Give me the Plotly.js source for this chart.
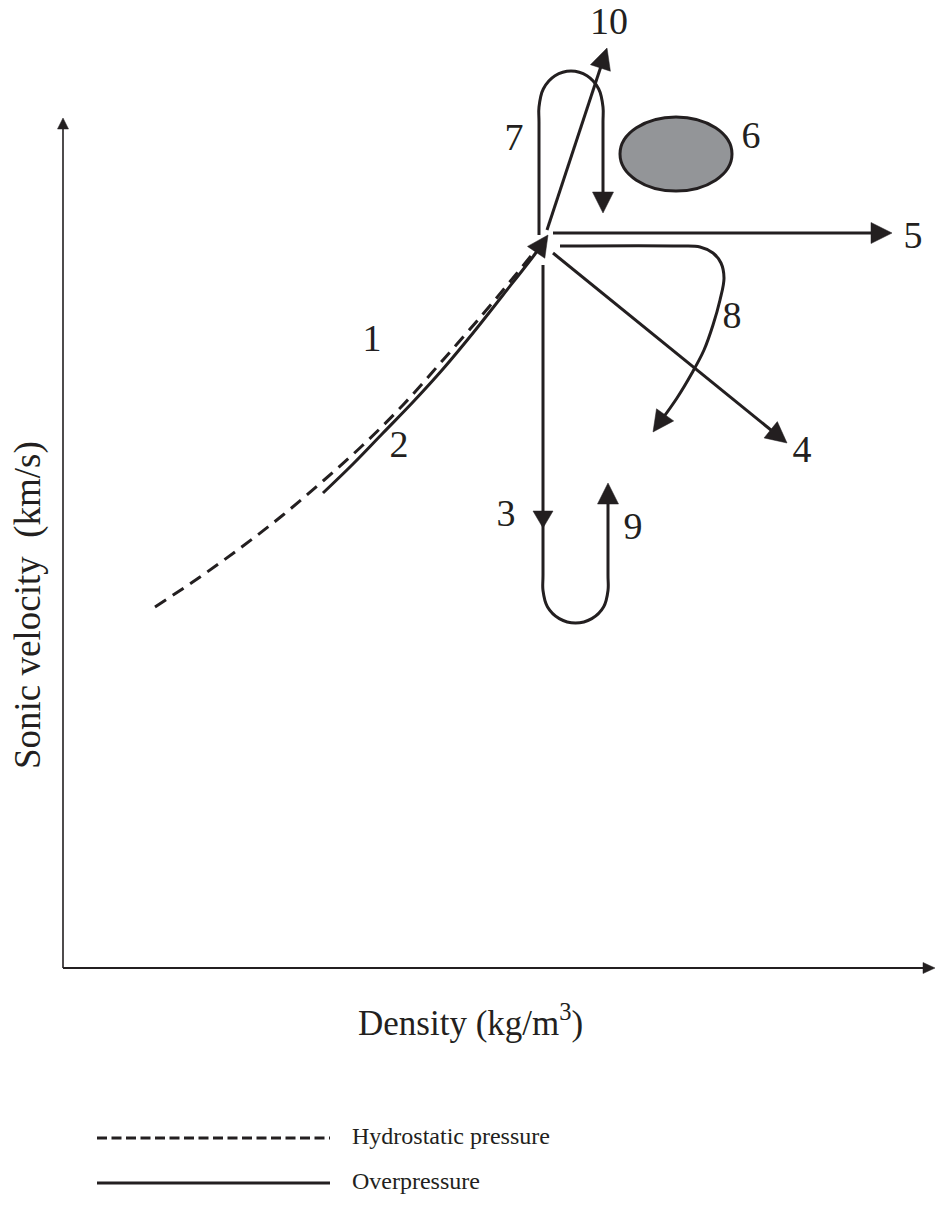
<!DOCTYPE html>
<html>
<head>
<meta charset="utf-8">
<script src="https://cdn.plot.ly/plotly-3.0.1.min.js"></script>
<style>html,body{margin:0;padding:0;background:#fff}</style>
</head>
<body>
<div id="chart" style="width:936px;height:1226px"></div>
<script>
// Schematic: sonic velocity vs density trends (arbitrary units, origin at the axes corner)

// Hydrostatic compaction trend (dashed)
const hydroX = [9.2, 13.7, 18.0, 22.0, 26.0, 30.0, 34.0, 38.0, 42.0, 45.0, 47.6];
const hydroY = [36.1, 39.1, 42.2, 45.3, 48.7, 52.3, 56.3, 60.8, 65.4, 69.0, 72.2];

// Overpressure trend (solid, ends with an arrow)
const overX = [26.0, 29.0, 32.0, 35.0, 38.0, 41.0, 44.0, 47.2, 48.5];
const overY = [47.5, 50.4, 53.5, 56.6, 59.9, 63.5, 67.3, 71.4, 73.3];

// Path 3 -> 9: straight down, U-turn, back up
const uX = [48.0, 48.0, 48.0, 48.44, 49.63, 51.25, 52.88, 54.07, 54.5, 54.5, 54.5];
const uY = [70.3, 39.3, 37.75, 36.13, 34.94, 34.5, 34.94, 36.13, 37.75, 39.3, 48.5];
const arrow3Tip = [48.0, 44.0];

// Path 7: up, loop over, back down
const loopX = [47.6, 47.6, 47.6, 48.03, 49.2, 50.8, 52.4, 53.57, 54.0, 54.0, 54.0];
const loopY = [73.3, 84.6, 86.1, 87.9, 89.22, 89.7, 89.22, 87.9, 86.1, 84.6, 75.5];

// Path 8: right, then bending down-left
const bendX = [49.7, 61.7, 63.7, 65.0, 65.8, 66.1, 65.7, 65.0, 64.1, 62.9, 61.4, 59.0];
const bendY = [72.2, 72.2, 72.1, 71.5, 70.5, 69.0, 66.8, 64.3, 61.8, 59.5, 57.0, 53.6];

// Straight arrows: [start, end]
const arrow4X = [49.0, 72.4], arrow4Y = [71.5, 52.5];
const arrow5X = [49.0, 82.9], arrow5Y = [73.5, 73.5];
const arrow10X = [48.4, 54.4], arrow10Y = [73.8, 92.0];

// Field 6 (ellipse): centre and semi-axes
const field6Center = [61.3, 81.4];
const field6Radii = [5.6, 3.7];

// Case labels
const labelText = ['1', '2', '3', '4', '5', '6', '7', '8', '9', '10'];
const labelX = [30.9, 33.6, 44.3, 73.9, 85.0, 68.8, 45.1, 66.9, 57.0, 54.6];
const labelY = [62.7, 52.1, 45.2, 51.6, 73.0, 83.0, 82.8, 65.0, 43.9, 94.4];

// Axes extents
const xAxisEnd = 87.2;
const yAxisEnd = 85.0;

// Legend
const legendNames = ['Hydrostatic pressure', 'Overpressure'];
const legendLineX = [3.4, 26.7];
const legendRowY = [-17.0, -21.5];

const INK = '#231f20';
const SERIF = '"Liberation Serif", "Times New Roman", Times, serif';
const HEAD_LEN = 2.1, HEAD_HALF = 1.05;

function headPoly(tip, from, len, half) {
  const dx = tip[0] - from[0], dy = tip[1] - from[1];
  const d = Math.hypot(dx, dy), ux = dx / d, uy = dy / d;
  const bx = tip[0] - ux * len, by = tip[1] - uy * len;
  return {
    x: [tip[0], bx - uy * half, bx + uy * half, tip[0]],
    y: [tip[1], by + ux * half, by - ux * half, tip[1]]
  };
}

function headTrace(poly) {
  return {
    type: 'scatter', mode: 'lines', x: poly.x, y: poly.y,
    fill: 'toself', fillcolor: INK, line: {color: INK, width: 0.5},
    hoverinfo: 'skip', showlegend: false
  };
}

function lineTrace(xs, ys, width, extra) {
  return Object.assign({
    type: 'scatter', mode: 'lines', x: xs, y: ys,
    line: {color: INK, width: width},
    hoverinfo: 'skip', showlegend: false
  }, extra || {});
}

// Line ending in an arrowhead: the line stops inside the head
function arrowTraces(xs, ys, smooth, len, half) {
  len = len || HEAD_LEN; half = half || HEAD_HALF;
  const n = xs.length;
  const tip = [xs[n - 1], ys[n - 1]], from = [xs[n - 2], ys[n - 2]];
  const dx = tip[0] - from[0], dy = tip[1] - from[1], d = Math.hypot(dx, dy);
  const lx = xs.slice(), ly = ys.slice();
  lx[n - 1] = tip[0] - dx / d * len * 0.7;
  ly[n - 1] = tip[1] - dy / d * len * 0.7;
  const line = {color: INK, width: 3};
  if (smooth) { line.shape = 'spline'; line.smoothing = 1; }
  return [
    lineTrace(lx, ly, 3, {line: line}),
    headTrace(headPoly(tip, from, len, half))
  ];
}

const traces = [];

// Axes with arrowheads
traces.push(lineTrace([0, xAxisEnd - 0.6], [0, 0], 2));
traces.push(headTrace(headPoly([xAxisEnd, 0], [0, 0], 1.2, 0.55)));
traces.push(lineTrace([0, 0], [0, yAxisEnd - 0.6], 1.6));
traces.push(headTrace(headPoly([0, yAxisEnd], [0, 0], 1.1, 0.55)));

// Hydrostatic trend
traces.push(lineTrace(hydroX, hydroY, 3, {line: {color: INK, width: 3, dash: '13px,8px', shape: 'spline', smoothing: 1}}));

// Overpressure trend
arrowTraces(overX, overY, true).forEach(t => traces.push(t));

// Straight arrows 4, 5, 10
arrowTraces(arrow4X, arrow4Y, false).forEach(t => traces.push(t));
arrowTraces(arrow5X, arrow5Y, false).forEach(t => traces.push(t));
arrowTraces(arrow10X, arrow10Y, false).forEach(t => traces.push(t));

// Curved paths 3/9, 7, 8
arrowTraces(uX, uY, true).forEach(t => traces.push(t));
traces.push(headTrace(headPoly(arrow3Tip, [arrow3Tip[0], arrow3Tip[1] + 5], 1.7, 1.0)));
arrowTraces(loopX, loopY, true).forEach(t => traces.push(t));
arrowTraces(bendX, bendY, true).forEach(t => traces.push(t));

// Numbered labels
traces.push({
  type: 'scatter', mode: 'text', x: labelX, y: labelY, text: labelText,
  textposition: 'middle center', cliponaxis: false,
  textfont: {family: SERIF, size: 38, color: INK},
  hoverinfo: 'skip', showlegend: false
});

// Legend key lines
traces.push(lineTrace(legendLineX, [legendRowY[0], legendRowY[0]], 3, {line: {color: INK, width: 3, dash: '10px,4.5px'}}));
traces.push(lineTrace(legendLineX, [legendRowY[1], legendRowY[1]], 3));
traces.push({
  type: 'scatter', mode: 'text', x: [legendLineX[1] + 2.2, legendLineX[1] + 2.2], y: legendRowY,
  text: legendNames, textposition: 'middle right', cliponaxis: false,
  textfont: {family: SERIF, size: 24, color: INK},
  hoverinfo: 'skip', showlegend: false
});

const layout = {
  width: 936, height: 1226,
  margin: {l: 0, r: 0, t: 0, b: 0},
  paper_bgcolor: '#ffffff', plot_bgcolor: '#ffffff',
  showlegend: false,
  font: {family: SERIF, color: INK},
  xaxis: {range: [-6.3, 87.3], visible: false, fixedrange: true},
  yaxis: {range: [-25.8, 96.8], visible: false, fixedrange: true},
  shapes: [{
    type: 'circle', xref: 'x', yref: 'y',
    x0: field6Center[0] - field6Radii[0], x1: field6Center[0] + field6Radii[0],
    y0: field6Center[1] - field6Radii[1], y1: field6Center[1] + field6Radii[1],
    fillcolor: '#939598', line: {color: INK, width: 3}
  }],
  annotations: [
    {text: 'Density (kg/m<sup>3</sup>)', x: 40.7, y: -5.2, xref: 'x', yref: 'y',
     showarrow: false, font: {family: SERIF, size: 35, color: INK}},
    {text: 'Sonic velocity  (km/s)', x: -3.5, y: 36.3, xref: 'x', yref: 'y',
     textangle: -90, showarrow: false, font: {family: SERIF, size: 37, color: INK}}
  ]
};

Plotly.newPlot('chart', traces, layout, {staticPlot: true, displayModeBar: false});
</script>
</body>
</html>
